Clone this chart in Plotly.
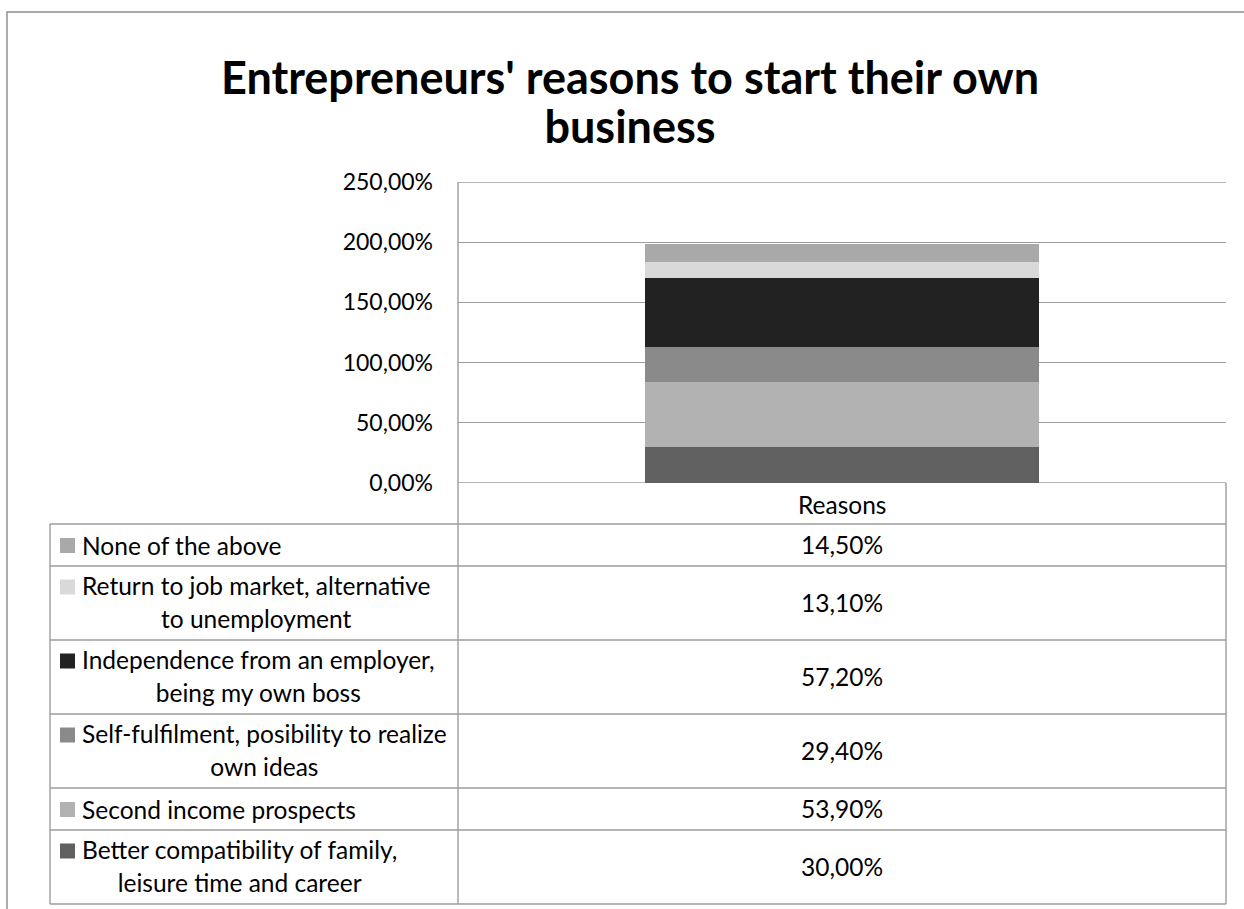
import plotly.graph_objects as go

W, H = 1244, 909

# ---- data ----
categories = ["Reasons"]
series_names = [
    "Better compatibility of family, leisure time and career",
    "Second income prospects",
    "Self-fulfilment, posibility to realize own ideas",
    "Independence from an employer, being my own boss",
    "Return to job market, alternative to unemployment",
    "None of the above",
]
series_label_lines = [
    ["Better compatibility of family,", "leisure time and career"],
    ["Second income prospects"],
    ["Self-fulfilment, posibility to realize", "own ideas"],
    ["Independence from an employer,", "being my own boss"],
    ["Return to job market, alternative", "to unemployment"],
    ["None of the above"],
]
series_values = [30.0, 53.9, 29.4, 57.2, 13.1, 14.5]
series_colors = ["#606060", "#b2b2b2", "#8a8a8a", "#222222", "#d9d9d9", "#a9a9a9"]
y_tick_values = [0, 50, 100, 150, 200, 250]
title_lines = ["Entrepreneurs' reasons to start their own", "business"]

FONT = "Lato"
GRID = "#9c9c9c"


def pct(v):
    return f"{v:.2f}".replace(".", ",") + "%"


def px(x):
    return x / W


def py(y):
    return 1 - y / H


# plot area in pixels
PL, PR, PT, PB = 458, 1226, 182, 483
TABLE_LEFT = 50
HEADER_BOTTOM = 524
ROW_1LINE, ROW_2LINE = 42, 74

fig = go.Figure()
for name, val, col in zip(series_names, series_values, series_colors):
    fig.add_trace(go.Bar(
        x=categories, y=[val], name=name,
        marker=dict(color=col, line=dict(width=0)),
        showlegend=False,
    ))

shapes = []
annotations = []


def hline(y, x0, x1, color=GRID):
    shapes.append(dict(type="line", xref="paper", yref="paper",
                       x0=px(x0), x1=px(x1), y0=py(y), y1=py(y),
                       line=dict(color=color, width=1.4)))


def vline(x, y0, y1, color=GRID):
    shapes.append(dict(type="line", xref="paper", yref="paper",
                       x0=px(x), x1=px(x), y0=py(y0), y1=py(y1),
                       line=dict(color=color, width=1.4)))


# outer chart border
shapes.append(dict(type="rect", xref="paper", yref="paper",
                   x0=px(7), x1=px(W + 20), y0=py(12), y1=py(H + 20),
                   line=dict(color="#8a8a8a", width=1.4), fillcolor="rgba(0,0,0,0)"))

# gridlines at both ends of the value axis
for v in (y_tick_values[0], y_tick_values[-1]):
    shapes.append(dict(type="line", xref="paper", yref="y",
                       x0=px(PL), x1=px(PR), y0=v, y1=v,
                       line=dict(color=GRID, width=1.4), layer="below"))

# data table rows (top to bottom = reverse stacking order)
rows = list(range(len(series_values)))[::-1]
y = HEADER_BOTTOM
row_bounds = [y]
for i in rows:
    y += ROW_2LINE if len(series_label_lines[i]) > 1 else ROW_1LINE
    row_bounds.append(y)
TABLE_BOTTOM = row_bounds[-1]

vline(PL, PT, TABLE_BOTTOM)
vline(PR, PB, TABLE_BOTTOM)
vline(TABLE_LEFT, HEADER_BOTTOM, TABLE_BOTTOM)
for yb in row_bounds:
    hline(yb, TABLE_LEFT, PR)

TXT = 24.5
LINE = 25.5

# header cell
annotations.append(dict(xref="paper", yref="paper", x=px((PL + PR) / 2), y=py((PB + HEADER_BOTTOM) / 2 + 1),
                        text=categories[0], showarrow=False, xanchor="center", yanchor="middle",
                        font=dict(family=FONT, size=TXT, color="#000")))

for k, i in enumerate(rows):
    top, bot = row_bounds[k], row_bounds[k + 1]
    mid = (top + bot) / 2
    lines = series_label_lines[i]
    n = len(lines)
    first_line_mid = mid - (n - 1) * 33 / 2
    # legend key
    shapes.append(dict(type="rect", xref="paper", yref="paper",
                       x0=px(60), x1=px(75), y0=py(first_line_mid - 7), y1=py(first_line_mid + 8),
                       line=dict(width=0), fillcolor=series_colors[i]))
    label = "<br>".join(f'<span style="font-size:{TXT}px">{t}</span>' for t in lines)
    text_mid = mid - 1 if n > 1 else mid
    annotations.append(dict(xref="paper", yref="paper", x=px(80), y=py(text_mid),
                            text=label, showarrow=False, xanchor="left", yanchor="middle", align="center",
                            font=dict(family=FONT, size=LINE, color="#000")))
    annotations.append(dict(xref="paper", yref="paper", x=px((PL + PR) / 2), y=py(mid - 1),
                            text=pct(series_values[i]), showarrow=False, xanchor="center", yanchor="middle",
                            font=dict(family=FONT, size=TXT, color="#000")))

# title
title_text = "<br>".join(f'<span style="font-size:45px">{t}</span>' for t in title_lines)
annotations.append(dict(xref="paper", yref="paper", x=px(630), y=py(101),
                        text=f"<b>{title_text}</b>", showarrow=False, xanchor="center", yanchor="middle",
                        align="center", font=dict(family=FONT, size=38, color="#000")))

fig.update_layout(
    width=W, height=H,
    margin=dict(l=0, r=0, t=0, b=0, autoexpand=False),
    paper_bgcolor="white", plot_bgcolor="white",
    barmode="stack", bargap=0.487,
    shapes=shapes, annotations=annotations,
    xaxis=dict(domain=[px(PL), px(PR)], showticklabels=False, showgrid=False,
               zeroline=False, showline=False, ticks=""),
    yaxis=dict(domain=[py(PB), py(PT)], range=[0, 250],
               tickvals=y_tick_values, ticktext=[pct(v) for v in y_tick_values],
               showgrid=True, gridcolor=GRID, gridwidth=1.4, zeroline=False,
               showline=False, ticks="", ticklabelstandoff=24,
               tickfont=dict(family=FONT, size=23, color="#000")),
    font=dict(family=FONT),
)

fig.write_html("out.html")
